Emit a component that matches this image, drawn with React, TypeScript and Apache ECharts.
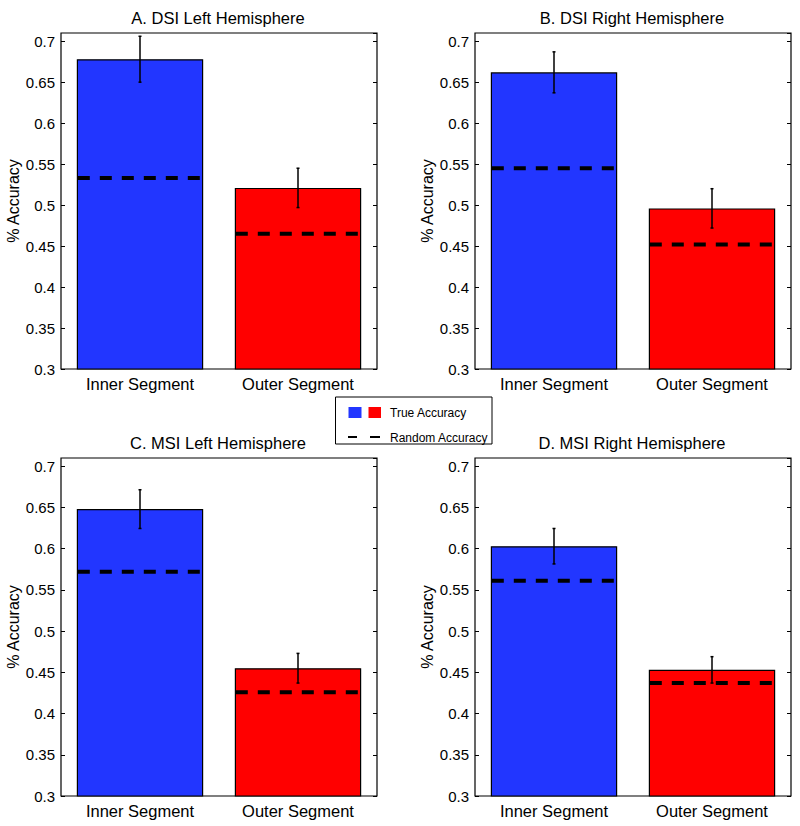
import React, { useEffect, useRef } from "react";
import * as echarts from "echarts";

const categories = ["Inner Segment", "Outer Segment"];
const panelTitles = [
  "A. DSI Left Hemisphere",
  "B. DSI Right Hemisphere",
  "C. MSI Left Hemisphere",
  "D. MSI Right Hemisphere",
];
const trueAccA = [0.678, 0.521];
const errA = [0.028, 0.024];
const randA = [0.533, 0.465];
const trueAccB = [0.662, 0.496];
const errB = [0.025, 0.024];
const randB = [0.545, 0.452];
const trueAccC = [0.648, 0.455];
const errC = [0.0235, 0.018];
const randC = [0.572, 0.426];
const trueAccD = [0.603, 0.453];
const errD = [0.0215, 0.016];
const randD = [0.561, 0.437];
const yTicks = [0.3, 0.35, 0.4, 0.45, 0.5, 0.55, 0.6, 0.65, 0.7];
const legendLabels = ["True Accuracy", "Random Accuracy"];

const panels = [
  { t: trueAccA, e: errA, r: randA },
  { t: trueAccB, e: errB, r: randB },
  { t: trueAccC, e: errC, r: randC },
  { t: trueAccD, e: errD, r: randD },
];

const FONT = "'Liberation Sans', Arial, Helvetica, sans-serif";
const BLUE = "#2236ff";
const RED = "#ff0000";

const grids = [
  { left: 61, top: 33, width: 316, height: 336 },
  { left: 475, top: 33, width: 316, height: 336 },
  { left: 61, top: 458, width: 316, height: 338 },
  { left: 475, top: 458, width: 316, height: 338 },
];

export default function App() {
  const ref = useRef<HTMLDivElement>(null);
  useEffect(() => {
    if (!ref.current) return;
    const chart = echarts.init(ref.current, undefined, { renderer: "svg" });
    const xAxis: any[] = [];
    const yAxis: any[] = [];
    const series: any[] = [];
    const title: any[] = [];
    grids.forEach((g, i) => {
      title.push({
        text: panelTitles[i],
        left: g.left + g.width / 2 - 6,
        top: i < 2 ? 4 : 429,
        textAlign: "center",
        textStyle: { fontFamily: FONT, fontSize: 16.5, fontWeight: "normal", color: "#000" },
      });
      xAxis.push({
        type: "category",
        gridIndex: i,
        data: categories,
        axisLine: { show: false },
        axisTick: { show: false },
        axisLabel: { color: "#000", fontFamily: FONT, fontSize: 16.5, margin: 6 },
      });
      const yCommon = {
        type: "value",
        gridIndex: i,
        min: 0.3,
        max: 0.71,
        interval: 0.05,
        splitLine: { show: false },
        axisLine: { show: false },
        axisTick: { show: true, inside: true, length: 4, lineStyle: { color: "#000", width: 1 } },
      };
      yAxis.push({
        ...yCommon,
        position: "left",
        name: "% Accuracy",
        nameLocation: "middle",
        nameGap: 38,
        nameTextStyle: { fontFamily: FONT, fontSize: 16, color: "#000" },
        axisLabel: {
          color: "#000",
          fontFamily: FONT,
          fontSize: 15,
          margin: 6,
          showMaxLabel: false,
          formatter: (v: number) => {
            const hit = yTicks.find((t) => Math.abs(t - v) < 1e-6);
            return hit === undefined ? "" : String(hit);
          },
        },
      });
      yAxis.push({
        ...yCommon,
        position: "right",
        axisLabel: { show: false },
      });
      const p = panels[i];
      series.push({
        type: "bar",
        xAxisIndex: i,
        yAxisIndex: 2 * i,
        barWidth: "80%",
        data: p.t.map((v, k) => ({
          value: v,
          itemStyle: { color: k === 0 ? BLUE : RED, borderColor: "#000", borderWidth: 1.2 },
        })),
      });
      series.push({
        type: "custom",
        xAxisIndex: i,
        yAxisIndex: 2 * i,
        z: 3,
        data: p.r.map((v, k) => [k, v]),
        encode: { x: 0, y: 1 },
        renderItem: (params: any, api: any) => {
          const c = api.coord([api.value(0), api.value(1)]);
          const bw = api.size([1, 0])[0] * 0.8;
          return {
            type: "line",
            shape: { x1: c[0] - bw / 2 + 1, y1: c[1], x2: c[0] + bw / 2 - 1, y2: c[1] },
            style: { stroke: "#000", lineWidth: 4, lineDash: [12, 10] },
          };
        },
      });
      series.push({
        type: "custom",
        xAxisIndex: i,
        yAxisIndex: 2 * i,
        z: 4,
        data: p.t.map((v, k) => [k, v, p.e[k]]),
        encode: { x: 0, y: 1 },
        renderItem: (params: any, api: any) => {
          const k = api.value(0);
          const v = api.value(1);
          const e = api.value(2);
          const hi = api.coord([k, v + e]);
          const lo = api.coord([k, v - e]);
          const cap = 1.5;
          const st = { stroke: "#000", lineWidth: 1.5 };
          return {
            type: "group",
            children: [
              { type: "line", shape: { x1: hi[0], y1: hi[1], x2: lo[0], y2: lo[1] }, style: st },
              { type: "line", shape: { x1: hi[0] - cap, y1: hi[1], x2: hi[0] + cap, y2: hi[1] }, style: st },
              { type: "line", shape: { x1: lo[0] - cap, y1: lo[1], x2: lo[0] + cap, y2: lo[1] }, style: st },
            ],
          };
        },
      });
    });

    const graphic: any[] = [
      {
        type: "rect",
        shape: { x: 335.5, y: 397, width: 156.5, height: 47 },
        style: { fill: "#fff", stroke: "#000", lineWidth: 1 },
        z: 10,
      },
      { type: "rect", shape: { x: 348.5, y: 407, width: 13, height: 11 }, style: { fill: BLUE }, z: 11 },
      { type: "rect", shape: { x: 368.5, y: 407, width: 12.5, height: 11 }, style: { fill: RED }, z: 11 },
      {
        type: "text",
        x: 390,
        y: 412.5,
        style: { text: legendLabels[0], fontFamily: FONT, fontSize: 12, fill: "#000", verticalAlign: "middle" },
        z: 11,
      },
      { type: "line", shape: { x1: 348, y1: 437, x2: 357, y2: 437 }, style: { stroke: "#000", lineWidth: 2 }, z: 11 },
      { type: "line", shape: { x1: 370, y1: 437, x2: 380, y2: 437 }, style: { stroke: "#000", lineWidth: 2 }, z: 11 },
      {
        type: "text",
        x: 390,
        y: 437.5,
        style: { text: legendLabels[1], fontFamily: FONT, fontSize: 12, fill: "#000", verticalAlign: "middle" },
        z: 11,
      },
    ];

    chart.setOption({
      animation: false,
      backgroundColor: "#fff",
      title,
      grid: grids.map((g) => ({ ...g, show: true, borderColor: "#000", borderWidth: 1.2, backgroundColor: "transparent" })),
      xAxis,
      yAxis,
      series,
      graphic,
    });
    return () => chart.dispose();
  }, []);
  return (
    <div
      ref={ref}
      style={{ position: "absolute", left: 0, top: 0, width: 800, height: 826, background: "#fff" }}
    />
  );
}
